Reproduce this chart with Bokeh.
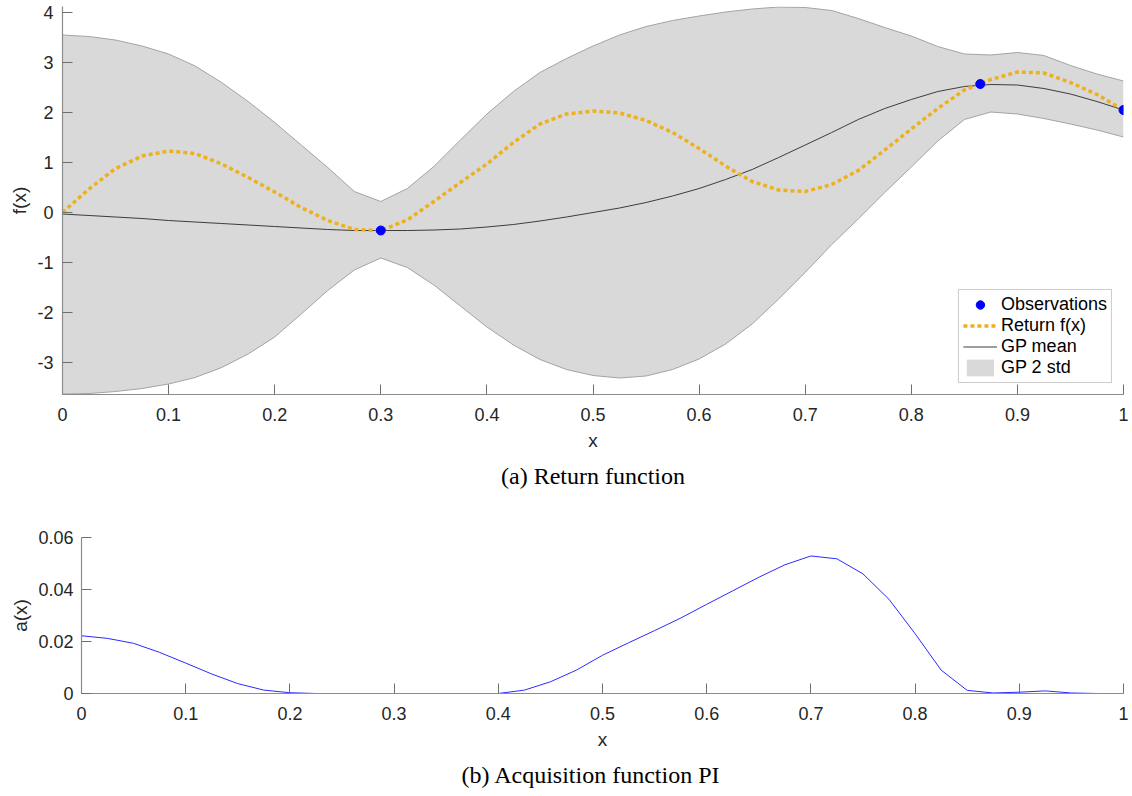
from bokeh.plotting import figure
from bokeh.models import FixedTicker, Legend, LegendItem, Title, ColumnDataSource, Spacer
from bokeh.layouts import column, row
from bokeh.embed import file_html
from bokeh.resources import INLINE

# ---------------- data ----------------
x_grid = [0.0, 0.025, 0.05, 0.075, 0.1, 0.125, 0.15, 0.175, 0.2, 0.225,
          0.25, 0.275, 0.3, 0.325, 0.35, 0.375, 0.4, 0.425, 0.45, 0.475,
          0.5, 0.525, 0.55, 0.575, 0.6, 0.625, 0.65, 0.675, 0.7, 0.725,
          0.75, 0.775, 0.8, 0.825, 0.85, 0.875, 0.9, 0.925, 0.95, 0.975, 1.0]

gp_upper = [3.55, 3.52, 3.45, 3.33, 3.17, 2.93, 2.6, 2.22, 1.8, 1.35,
            0.9, 0.42, 0.22, 0.48, 0.92, 1.45, 1.97, 2.42, 2.8, 3.08,
            3.33, 3.55, 3.72, 3.84, 3.93, 4.01, 4.07, 4.11, 4.1, 4.04,
            3.88, 3.7, 3.53, 3.32, 3.17, 3.15, 3.2, 3.14, 2.94, 2.77, 2.63]

gp_lower = [-3.63, -3.62, -3.58, -3.52, -3.43, -3.3, -3.1, -2.83, -2.49, -2.03,
            -1.56, -1.15, -0.91, -1.1, -1.45, -1.87, -2.29, -2.65, -2.94, -3.14,
            -3.26, -3.31, -3.27, -3.14, -2.93, -2.63, -2.23, -1.73, -1.2, -0.64,
            -0.13, 0.4, 0.91, 1.43, 1.86, 2.01, 1.97, 1.88, 1.77, 1.65, 1.51]

gp_mean = [-0.03, -0.06, -0.09, -0.12, -0.16, -0.19, -0.22, -0.25, -0.28, -0.31,
           -0.34, -0.36, -0.36, -0.36, -0.35, -0.33, -0.29, -0.24, -0.17, -0.09,
           0.0, 0.09, 0.2, 0.33, 0.48, 0.66, 0.86, 1.1, 1.35, 1.6,
           1.86, 2.08, 2.26, 2.42, 2.52, 2.56, 2.55, 2.48, 2.37, 2.22, 2.05]

return_f = [0.0, 0.47, 0.88, 1.13, 1.23, 1.18, 0.97, 0.7, 0.41, 0.1,
            -0.16, -0.34, -0.36, -0.15, 0.22, 0.6, 0.97, 1.4, 1.77, 1.97,
            2.03, 1.99, 1.84, 1.6, 1.28, 0.93, 0.62, 0.45, 0.42, 0.56,
            0.84, 1.25, 1.67, 2.08, 2.45, 2.66, 2.81, 2.79, 2.6, 2.36, 2.05]

obs_x = [0.3, 0.865, 1.0]
obs_y = [-0.36, 2.57, 2.05]

acq_pi = [0.0222, 0.0212, 0.0193, 0.0158, 0.0117, 0.0075, 0.0038, 0.0013, 0.0003, 0.0,
          0.0, 0.0, 0.0, 0.0, 0.0, 0.0, 0.0, 0.0013, 0.0045, 0.009,
          0.0147, 0.0195, 0.0242, 0.029, 0.0343, 0.0395, 0.0447, 0.0495, 0.0529, 0.0518,
          0.046, 0.0362, 0.023, 0.009, 0.0012, 0.0002, 0.0005, 0.001, 0.0002, 0.0, 0.0]

x_ticks = [0, 0.1, 0.2, 0.3, 0.4, 0.5, 0.6, 0.7, 0.8, 0.9, 1]
x_tick_labels = ["0", "0.1", "0.2", "0.3", "0.4", "0.5", "0.6", "0.7", "0.8", "0.9", "1"]
f_ticks = [-3, -2, -1, 0, 1, 2, 3, 4]
f_tick_labels = ["-3", "-2", "-1", "0", "1", "2", "3", "4"]
a_ticks = [0, 0.02, 0.04, 0.06]
a_tick_labels = ["0", "0.02", "0.04", "0.06"]

SANS = "Liberation Sans"
SERIF = "Liberation Serif"
TXT = "#262626"


def style(p, xt, xl, yt, yl, xlabel, ylabel):
    p.title.visible = False
    p.grid.visible = False
    p.outline_line_color = None
    p.background_fill_color = "white"
    p.border_fill_color = "white"
    p.xaxis.ticker = FixedTicker(ticks=xt)
    p.xaxis.major_label_overrides = dict(zip(xt, xl))
    p.yaxis.ticker = FixedTicker(ticks=yt)
    p.yaxis.major_label_overrides = dict(zip(yt, yl))
    for ax in (p.xaxis[0], p.yaxis[0]):
        ax.axis_line_color = "#8c8c8c"
        ax.axis_line_width = 1.2
        ax.major_tick_line_color = "#6e6e6e"
        ax.major_tick_in = 10
        ax.major_tick_out = 0
        ax.minor_tick_line_color = None
        ax.major_label_text_font = SANS
        ax.major_label_text_font_size = "18px"
        ax.major_label_text_color = TXT
        ax.axis_label_text_font = SANS
        ax.axis_label_text_font_size = "19px"
        ax.axis_label_text_font_style = "normal"
        ax.axis_label_text_color = TXT
    p.xaxis.axis_label = xlabel
    p.yaxis.axis_label = ylabel
    p.xaxis.major_label_standoff = 13
    p.xaxis.axis_label_standoff = 6
    p.yaxis.major_label_standoff = 9
    p.yaxis.axis_label_standoff = 4


# ---------------- top panel ----------------
src = ColumnDataSource(dict(x=x_grid, up=gp_upper, lo=gp_lower, m=gp_mean, f=return_f))

p1 = figure(width=1132, height=500, x_range=(0, 1), y_range=(-3.64, 4.12),
            output_backend="svg", toolbar_location=None,
            min_border_left=62, min_border_right=9, min_border_top=6, min_border_bottom=106)
style(p1, x_ticks, x_tick_labels, f_ticks, f_tick_labels, "x", "f(x)")

band = p1.varea(x="x", y1="lo", y2="up", source=src, fill_color="#d9d9d9")
p1.line(x="x", y="up", source=src, line_color="#a3a3a3", line_width=1)
p1.line(x="x", y="lo", source=src, line_color="#a3a3a3", line_width=1)
mean_r = p1.line(x="x", y="m", source=src, line_color="#3c3c3c", line_width=1)
f_r = p1.line(x="x", y="f", source=src, line_color="#EDB120", line_width=3.5, line_dash="4 3")
obs_r = p1.scatter(obs_x, obs_y, size=9, fill_color="#0000ff", line_color="#0000ff")

legend = Legend(items=[
    LegendItem(label="Observations", renderers=[obs_r]),
    LegendItem(label="Return f(x)", renderers=[f_r]),
    LegendItem(label="GP mean", renderers=[mean_r]),
    LegendItem(label="GP 2 std", renderers=[band]),
], location="bottom_right")
legend.margin = 11
legend.padding = 4
legend.spacing = 0
legend.glyph_width = 34
legend.glyph_height = 21
legend.label_height = 21
legend.label_standoff = 4
legend.label_text_font = SANS
legend.label_text_font_size = "18px"
legend.label_text_color = "black"
legend.border_line_color = "#999999"
legend.border_line_width = 1
legend.background_fill_color = "white"
legend.background_fill_alpha = 1.0
p1.add_layout(legend)

cap1 = Title(text="(a) Return function", align="center", text_font=SERIF,
             text_font_size="24px", text_font_style="normal", text_color="black", standoff=14)
p1.add_layout(cap1, "below")

# ---------------- bottom panel ----------------
p2 = figure(width=1126, height=296, x_range=(0, 1), y_range=(0, 0.06),
            output_backend="svg", toolbar_location=None,
            min_border_left=75, min_border_right=9, min_border_top=37, min_border_bottom=103)
style(p2, x_ticks, x_tick_labels, a_ticks, a_tick_labels, "x", "a(x)")
p2.yaxis.major_label_standoff = 8
p2.line(x_grid, acq_pi, line_color="#2b2bff", line_width=1)

cap2 = Title(text="(b) Acquisition function PI", align="left", text_font=SERIF,
             text_font_size="24px", text_font_style="normal", text_color="black",
             standoff=14, offset=380)
p2.add_layout(cap2, "below")

layout = column(p1, row(Spacer(width=6, height=296), p2, spacing=0), spacing=0)
open("out.html", "w").write(file_html(layout, INLINE))
